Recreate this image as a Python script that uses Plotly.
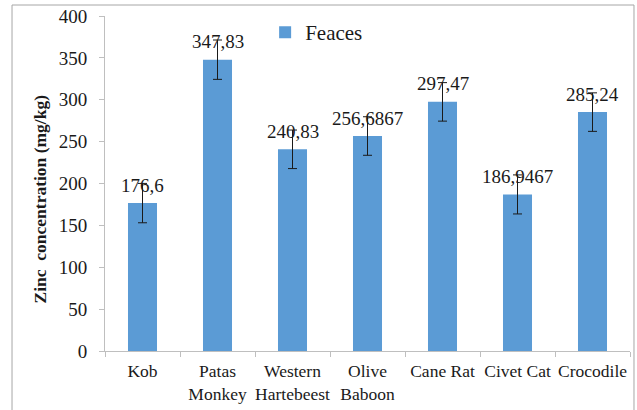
import plotly.graph_objects as go

categories = ["Kob", "Patas<br>Monkey", "Western<br>Hartebeest", "Olive<br>Baboon",
              "Cane Rat", "Civet Cat", "Crocodile"]
values = [176.6, 347.83, 240.83, 256.6867, 297.47, 186.9467, 285.24]
errors = [23.5, 23.5, 23.0, 23.0, 23.0, 23.3, 23.0]
value_labels = ["176,6", "347,83", "240,83", "256,6867", "297,47", "186,9467", "285,24"]
y_ticks = [0, 50, 100, 150, 200, 250, 300, 350, 400]
series_name = "Feaces"

SERIF = "Times New Roman"
TXT = "#1a1a1a"
AX = "#bfbfbf"

fig = go.Figure()
fig.add_trace(go.Bar(
    x=categories, y=values, name=series_name,
    marker=dict(color="#5b9bd5", line=dict(width=0)),
    error_y=dict(type="data", array=errors, visible=True, color="#1a1a1a",
                 thickness=1, width=4.5),
))

for c, v, t in zip(categories, values, value_labels):
    fig.add_annotation(x=c, y=v, text=t, showarrow=False, yanchor="middle",
                       yshift=18, font=dict(family=SERIF, size=19, color=TXT))

fig.add_annotation(xref="paper", yref="paper", x=-0.1229, y=0.4537,
                   xanchor="center", yanchor="middle",
                   text="<b>Zinc  concentration (mg/kg)</b>", textangle=-90,
                   showarrow=False, font=dict(family=SERIF, size=17.5, color=TXT))

fig.add_shape(type="rect", xref="paper", yref="paper",
              x0=-0.1771, x1=1.0076, y0=-0.19, y1=1.0328,
              line=dict(color="#a6a6a6", width=1), layer="below")

fig.update_layout(
    width=637, height=410,
    margin=dict(l=105, r=7, t=16, b=59, autoexpand=False),
    paper_bgcolor="white", plot_bgcolor="white",
    bargap=0.613,
    showlegend=True,
    legend=dict(x=0.305, y=1.012, xanchor="left", yanchor="top",
                bgcolor="rgba(0,0,0,0)", itemwidth=30,
                font=dict(family=SERIF, size=21, color=TXT)),
    font=dict(family=SERIF, color=TXT),
)
fig.update_xaxes(showline=True, linecolor=AX, linewidth=1, ticks="outside",
                 tickson="boundaries", ticklen=5, tickcolor=AX, tickangle=0,
                 automargin=False, ticklabelstandoff=4,
                 tickfont=dict(family=SERIF, size=17.5, color=TXT),
                 showgrid=False)
fig.update_yaxes(range=[0, 400], tickvals=y_ticks, showline=True, linecolor=AX,
                 linewidth=1, ticks="outside", ticklen=5, tickcolor=AX,
                 ticklabelstandoff=8, automargin=False,
                 tickfont=dict(family=SERIF, size=19, color=TXT),
                 showgrid=False, zeroline=False)

fig.write_html("out.html", config={"displayModeBar": False},
               post_script="document.body.style.margin='0';document.body.style.padding='0';")
